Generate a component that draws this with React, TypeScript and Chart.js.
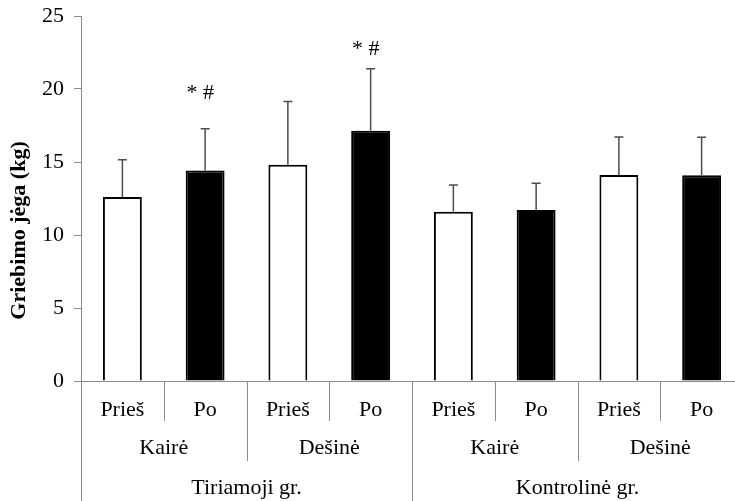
import React, { useEffect, useRef } from 'react';
import { Chart, registerables } from 'chart.js';

Chart.register(...registerables);

const phases = ['Prieš', 'Po', 'Prieš', 'Po', 'Prieš', 'Po', 'Prieš', 'Po'];
const sides = ['Kairė', 'Dešinė', 'Kairė', 'Dešinė'];
const groups = ['Tiriamoji gr.', 'Kontrolinė gr.'];
const means = [12.6, 14.42, 14.82, 17.14, 11.6, 11.71, 14.11, 14.1];
const sds = [2.55, 2.86, 4.33, 4.25, 1.82, 1.83, 2.6, 2.6];
const marks = ['', '* #', '', '* #', '', '', '', ''];
const markLevels = [0, 19.7, 0, 22.7, 0, 0, 0, 0];
const yMin = 0;
const yMax = 25;
const yStep = 5;
const yTitle = 'Griebimo jėga (kg)';

const FONT = "'Liberation Serif'";
const GRAY = '#8c8c8c';

const decor = {
  id: 'decor',
  afterDatasetsDraw(chart: any) {
    const ctx = chart.ctx;
    const y = chart.scales.y;
    const meta = chart.getDatasetMeta(0);
    ctx.save();
    ctx.strokeStyle = '#4d4d4d';
    ctx.lineWidth = 1.5;
    meta.data.forEach((bar: any, i: number) => {
      const top = y.getPixelForValue(means[i] + sds[i]);
      ctx.beginPath();
      ctx.moveTo(bar.x, bar.y);
      ctx.lineTo(bar.x, top);
      ctx.moveTo(bar.x - 4.5, top);
      ctx.lineTo(bar.x + 4.5, top);
      ctx.stroke();
    });
    ctx.fillStyle = '#000';
    ctx.font = `22px ${FONT}`;
    ctx.textAlign = 'center';
    ctx.textBaseline = 'middle';
    meta.data.forEach((bar: any, i: number) => {
      if (!marks[i]) return;
      ctx.fillText(marks[i], bar.x - 5, y.getPixelForValue(markLevels[i]));
    });
    ctx.restore();
  },
  afterDraw(chart: any) {
    const ctx = chart.ctx;
    const x = chart.scales.x;
    const area = chart.chartArea;
    const bottom = area.bottom;
    const H = chart.height;
    const px = (i: number) => x.getPixelForValue(i);
    ctx.save();
    ctx.strokeStyle = GRAY;
    ctx.lineWidth = 1;
    ctx.beginPath();
    ctx.moveTo(Math.round(area.left) + 0.5, bottom);
    ctx.lineTo(Math.round(area.left) + 0.5, H);
    ctx.stroke();
    for (let i = 0; i < phases.length - 1; i++) {
      const sx = Math.round((px(i) + px(i + 1)) / 2) + 0.5;
      let end = bottom + 40;
      if (i % 4 === 3) end = H;
      else if (i % 2 === 1) end = bottom + 80;
      ctx.beginPath();
      ctx.moveTo(sx, bottom);
      ctx.lineTo(sx, end);
      ctx.stroke();
    }
    ctx.beginPath();
    ctx.moveTo(Math.round(area.right) + 0.5, bottom);
    ctx.lineTo(Math.round(area.right) + 0.5, H);
    ctx.stroke();

    ctx.fillStyle = '#000';
    ctx.font = `22px ${FONT}`;
    ctx.textAlign = 'center';
    ctx.textBaseline = 'middle';
    sides.forEach((s, k) => {
      const cx = (px(2 * k) + px(2 * k + 1)) / 2;
      ctx.fillText(s, cx, bottom + 67);
    });
    groups.forEach((g, k) => {
      const cx = (px(4 * k) + px(4 * k + 3)) / 2;
      ctx.fillText(g, cx, bottom + 107);
    });

    ctx.font = `bold 22px ${FONT}`;
    ctx.translate(19, (area.top + area.bottom) / 2 + 32);
    ctx.rotate(-Math.PI / 2);
    ctx.fillText(yTitle, 0, 0);
    ctx.restore();
  },
};

export default function App() {
  const ref = useRef<HTMLCanvasElement | null>(null);
  useEffect(() => {
    if (!ref.current) return;
    const chart = new Chart(ref.current, {
      type: 'bar',
      data: {
        labels: phases,
        datasets: [
          {
            data: means,
            backgroundColor: phases.map((p) => (p === 'Po' ? '#000000' : '#ffffff')),
            borderColor: '#000000',
            borderWidth: 2,
            barPercentage: 0.47,
            categoryPercentage: 1,
          },
        ],
      },
      options: {
        responsive: false,
        animation: false,
        devicePixelRatio: 1,
        layout: { padding: { top: 16, right: 17, left: 0, bottom: 0 } },
        plugins: { legend: { display: false }, tooltip: { enabled: false }, title: { display: false } },
        scales: {
          x: {
            grid: { display: false },
            border: { display: true, color: GRAY, width: 1 },
            ticks: { color: '#000', font: { family: FONT, size: 22 }, padding: 8, maxRotation: 0, autoSkip: false },
            afterFit: (s: any) => {
              s.height = 120;
              s.paddingLeft = 0;
              s.paddingRight = 0;
            },
          },
          y: {
            min: yMin,
            max: yMax,
            ticks: { stepSize: yStep, color: '#000', font: { family: FONT, size: 22 }, padding: 10 },
            grid: { drawOnChartArea: false, drawTicks: true, tickLength: 7, color: GRAY },
            border: { display: true, color: GRAY, width: 1 },
            afterFit: (s: any) => {
              s.width = 81;
              s.paddingTop = 0;
              s.paddingBottom = 0;
            },
          },
        },
      },
      plugins: [decor],
    });
    return () => chart.destroy();
  }, []);
  return (
    <div style={{ position: 'fixed', left: 0, top: 0, width: 735, height: 501, overflow: 'hidden', background: '#fff' }}>
      <canvas ref={ref} width={760} height={501} style={{ display: 'block' }} />
    </div>
  );
}
